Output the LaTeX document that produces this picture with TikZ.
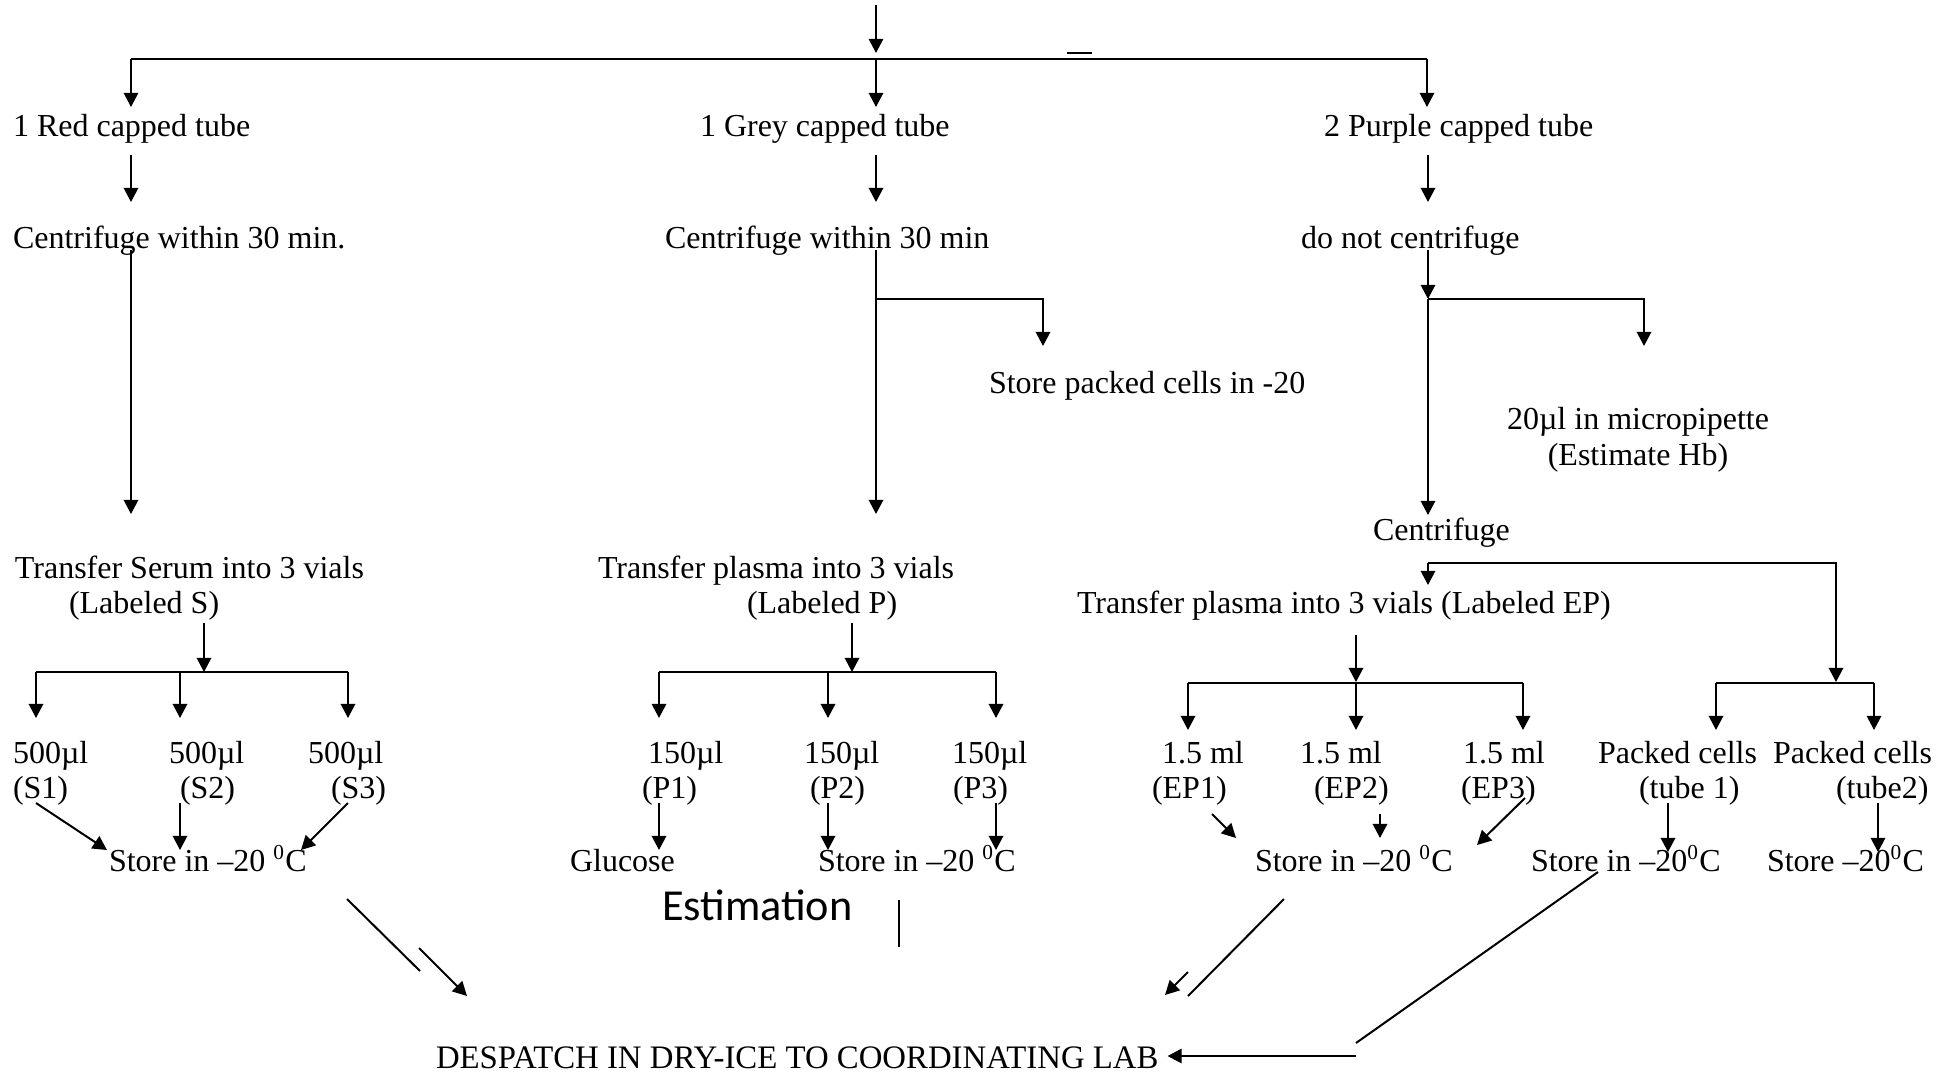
\documentclass[tikz,border=0pt]{standalone}
\usepackage{fontspec}
\setmainfont{Liberation Serif}
\newfontfamily\estfont{Carlito}
\usetikzlibrary{arrows.meta,calc}

\begin{document}
\begin{tikzpicture}[
    x=0.375pt,
    y=-0.375pt,
    line width=0.75pt,
    >={Triangle[length=5.3pt,width=5.4pt]},
    lbl/.style={anchor=base west, inner sep=0pt, font=\fontsize{12}{14}\selectfont},
    clbl/.style={lbl, anchor=base},
  ]

\useasboundingbox (0,0) rectangle (1952,1074);

% tubes
\node[lbl] (red)    at (12,136)   {1 Red capped tube};
\node[lbl] (grey)   at (699,136)  {1 Grey capped tube};
\node[lbl] (purple) at (1323,136) {2 Purple capped tube};

\node[lbl] (cfR)  at (12,248)   {Centrifuge within 30 min.};
\node[lbl] (cfG)  at (664,248)  {Centrifuge within 30 min};
\node[lbl] (noCf) at (1300,248) {do not centrifuge};

\node[lbl]  (packG) at (988,393)  {Store packed cells in -20};
\node[clbl] (micro) at (1638,429) {20µl in micropipette};
\node[clbl] (hb)    at (1638,465) {(Estimate Hb)};
\node[lbl]  (cfP)   at (1372,540) {Centrifuge};

\node[lbl] (trS)  at (14,578)   {Transfer Serum into 3 vials};
\node[lbl] (labS) at (68,613)   {(Labeled S)};
\node[lbl] (trP)  at (597,578)  {Transfer plasma into 3 vials};
\node[lbl] (labP) at (746,613)  {(Labeled P)};
\node[lbl] (trEP) at (1076,613) {Transfer plasma into 3 vials (Labeled EP)};

% vials
\node[lbl] (volS1) at (12,763)  {500µl};
\node[lbl] (volS2) at (168,763) {500µl};
\node[lbl] (volS3) at (307,763) {500µl};
\node[lbl] (S1) at (12,798)  {(S1)};
\node[lbl] (S2) at (179,798) {(S2)};
\node[lbl] (S3) at (330,798) {(S3)};

\node[lbl] (volP1) at (647,763) {150µl};
\node[lbl] (volP2) at (803,763) {150µl};
\node[lbl] (volP3) at (951,763) {150µl};
\node[lbl] (P1) at (641,798) {(P1)};
\node[lbl] (P2) at (809,798) {(P2)};
\node[lbl] (P3) at (952,798) {(P3)};

\node[lbl] (volEP1) at (1161,763) {1.5 ml};
\node[lbl] (volEP2) at (1299,763) {1.5 ml};
\node[lbl] (volEP3) at (1462,763) {1.5 ml};
\node[lbl] (EP1) at (1151,798) {(EP1)};
\node[lbl] (EP2) at (1313,798) {(EP2)};
\node[lbl] (EP3) at (1460,798) {(EP3)};

\node[lbl] (pack1) at (1597,763) {Packed cells};
\node[lbl] (pack2) at (1772,763) {Packed cells};
\node[lbl] (tube1) at (1638,798) {(tube 1)};
\node[lbl] (tube2) at (1835,798) {(tube2)};

% storage
\node[lbl] (stS)  at (108,871)  {Store in --20 \textsuperscript{0}C};
\node[lbl] (gluc) at (569,871)  {Glucose};
\node[lbl] (stP)  at (817,871)  {Store in --20 \textsuperscript{0}C};
\node[lbl] (stEP) at (1254,871) {Store in --20 \textsuperscript{0}C};
\node[lbl] (stT1) at (1530,871) {Store in --20\textsuperscript{0}C};
\node[lbl] (stT2) at (1766,871) {Store --20\textsuperscript{0}C};

\node[anchor=base west, inner sep=0pt, font=\estfont\fontsize{16.6}{19}\selectfont]
  (est) at (661,920) {Estimation};

\node[lbl, font=\fontsize{12.3}{14}\selectfont]
  (despatch) at (435,1068) {DESPATCH IN DRY-ICE TO COORDINATING LAB};

% first split
\coordinate (src)  at (876,5);
\coordinate (bus)  at (876,59);
\coordinate (busL) at (131,59);
\coordinate (busR) at (1427,59);
\draw[->] (src) -- ++(0,48);
\draw (busL) -- (busR);
\foreach \c in {busL,bus,busR}
  \draw[->] (\c) -- ++(0,48);
\draw (1067,53) -- (1092,53);

% red tube
\draw[->] (131,155) -- (131,202);
\draw[->] (131,250) -- (131,514);

% grey tube
\coordinate (jG) at (876,299);
\draw[->] (876,155) -- (876,202);
\draw[->] (876,250) -- (876,514);
\draw[->] (jG) -- (1043,299) -- (1043,346);

% purple tube
\coordinate (jP) at (1428,299);
\draw[->] (1428,155) -- (1428,202);
\draw[->] (1428,250) -- (jP);
\draw[->] (jP) -- (1644,299) -- (1644,346);
\draw[->] (jP) -- (1428,515);

\coordinate (jEP) at (1428,563);
\draw[->] (jEP) -- (1428,585);
\draw[->] (jEP) -- (1836,563) -- (1836,682);

% serum vials
\draw[->] (204,623) -- (204,672);
\draw (36,672) -- (348,672);
\foreach \x in {36,180,348}
  \draw[->] (\x,672) -- (\x,718);

% plasma vials
\draw[->] (852,623) -- (852,672);
\draw (659,672) -- (996,672);
\foreach \x in {659,828,996}
  \draw[->] (\x,672) -- (\x,718);

% EP vials and packed cells
\draw[->] (1356,635) -- (1356,682);
\draw (1188,683) -- (1523,683);
\foreach \x in {1188,1356,1523}
  \draw[->] (\x,683) -- (\x,730);
\draw (1716,683) -- (1874,683);
\foreach \x in {1716,1874}
  \draw[->] (\x,683) -- (\x,730);

% to storage
\draw[->] (36,803) -- (107,850);
\draw[->] (180,803) -- (180,850);
\draw[->] (348,803) -- (301,850);
\foreach \x in {659,828,996}
  \draw[->] (\x,803) -- (\x,850);
\draw[->] (1212,814) -- (1236,838);
\draw[->] (1380,814) -- (1380,838);
\draw[->] (1525,798) -- (1477,845);
\draw[->] (1668,803) -- (1668,852);
\draw[->] (1878,803) -- (1878,852);

% despatch
\draw (347,899) -- (420,971);
\draw[->] (419,948) -- (467,996);
\draw (899,900) -- (899,947);
\draw (1284,899) -- (1188,996);
\draw[->] (1188,972) -- (1165,995);
\draw (1598,872) -- (1356,1043);
\draw[->] (1356,1056) -- ($(despatch.east |- 0,1056)+(8,0)$);

\end{tikzpicture}
\end{document}
